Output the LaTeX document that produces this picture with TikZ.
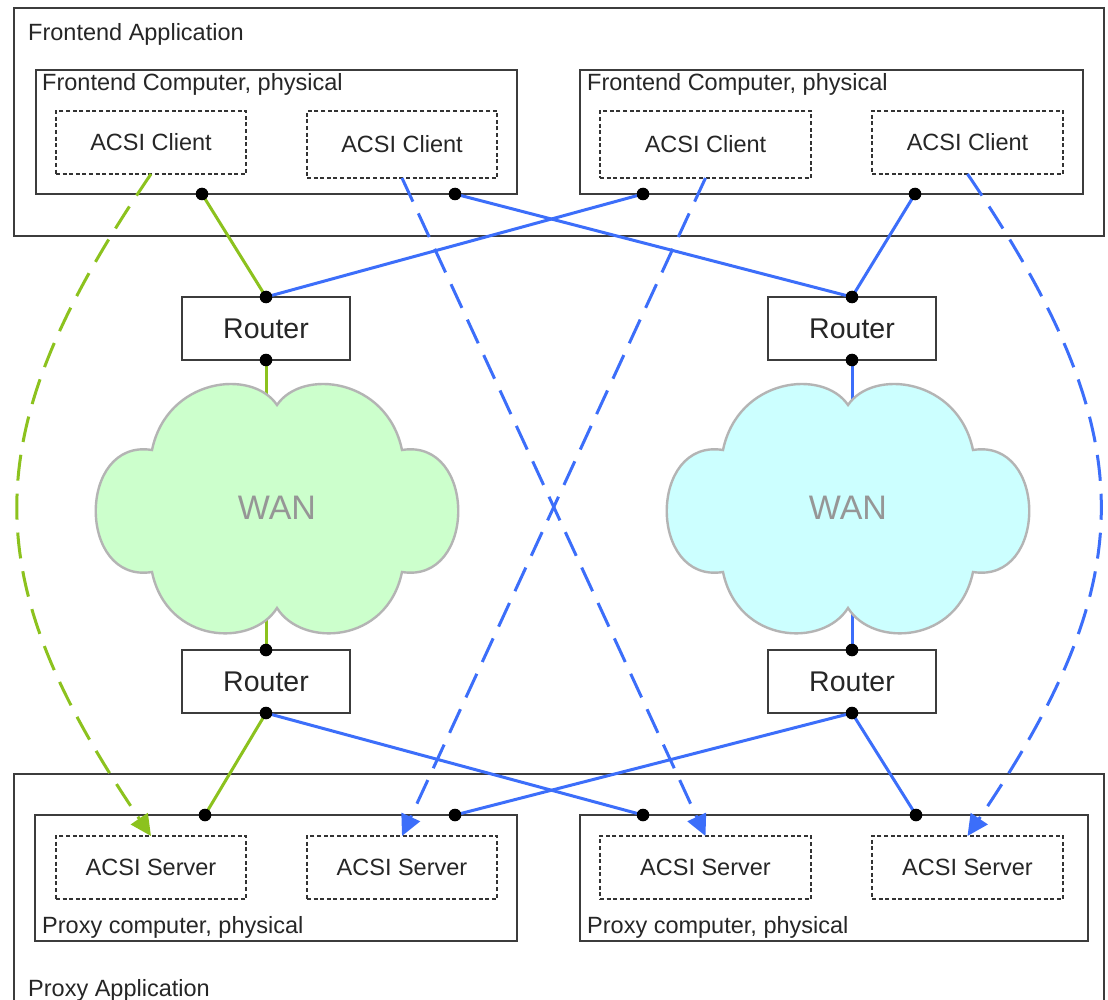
\documentclass[tikz,border=0pt]{standalone}
\usepackage{fontspec}
\setmainfont{Liberation Sans}
\usetikzlibrary{arrows.meta}
\definecolor{lgreen}{RGB}{140,194,30}
\definecolor{lblue}{RGB}{60,110,250}
\definecolor{cloudgreen}{RGB}{204,255,204}
\definecolor{cloudcyan}{RGB}{204,255,255}
\definecolor{cloudedge}{RGB}{180,180,180}
\definecolor{framegray}{RGB}{60,60,60}
\definecolor{wantext}{RGB}{150,150,150}
\begin{document}
\begin{tikzpicture}[x=1pt,y=-1pt,
  every node/.style={text=black!85},
  smalltext/.style={font=\fontsize{23.5}{27}\selectfont},
  framebox/.style={draw=framegray, line width=1.5pt, inner sep=0pt, outer sep=0pt},
  acsibox/.style={draw=black!80, line width=1.3pt, dash pattern=on 4pt off 2.6pt,
    inner sep=0pt, outer sep=0pt, smalltext, minimum height=63pt},
  routerbox/.style={framebox, font=\fontsize{28.5}{32}\selectfont, minimum width=168pt, minimum height=63pt},
  labeltext/.style={smalltext, inner sep=0pt, anchor=base west},
  gline/.style={draw=lgreen, line width=3pt},
  bline/.style={draw=lblue, line width=3pt},
  dashconn/.style={dash pattern=on 26pt off 13pt, -{Triangle[length=21pt,width=20pt]}},
  pics/wancloud/.style={code={
    \filldraw[fill=#1, draw=cloudedge, line width=2.4pt]
      (0,-103) .. controls (-25,-140) and (-110,-130) .. (-125,-58)
      .. controls (-200,-70) and (-200,76) .. (-125,64)
      .. controls (-110,136) and (-25,140) .. (0,100)
      .. controls (25,140) and (110,136) .. (125,64)
      .. controls (200,76) and (200,-70) .. (125,-58)
      .. controls (110,-130) and (25,-140) .. (0,-103) -- cycle;
  }}
]
\useasboundingbox (0,0) rectangle (1108,1000);
\fill[white] (0,0) rectangle (1108,1000);

% outer frames
\node[framebox, minimum width=1090pt, minimum height=228pt] (frontapp) at (559,122) {};
\node[labeltext] (frontapplbl) at (28,41) {Frontend Application};
\draw[draw=framegray, line width=1.5pt] (14,1000) -- (14,774) -- (1104,774) -- (1104,1000);
\node[labeltext] (proxyapplbl) at (28,996) {Proxy Application};

% frontend computers
\node[framebox, minimum width=481pt, minimum height=124pt] (fcL) at (276.5,132) {};
\node[framebox, minimum width=503pt, minimum height=124pt] (fcR) at (831.5,132) {};
\node[labeltext] (fcLlbl) at (42,91) {Frontend Computer, physical};
\node[labeltext] (fcRlbl) at (587,91) {Frontend Computer, physical};

\node[acsibox, minimum width=190pt] (cl1) at (151,142.5) {ACSI Client};
\node[acsibox, minimum width=190pt, minimum height=67pt] (cl2) at (402,144.5) {ACSI Client};
\node[acsibox, minimum width=211pt, minimum height=67pt] (cl3) at (705.5,144.5) {ACSI Client};
\node[acsibox, minimum width=191pt] (cl4) at (967.5,142.5) {ACSI Client};

% proxy computers
\node[framebox, minimum width=482pt, minimum height=126pt] (pcL) at (276,878) {};
\node[framebox, minimum width=508pt, minimum height=126pt] (pcR) at (834,878) {};
\node[labeltext] (pcLlbl) at (42,933) {Proxy computer, physical};
\node[labeltext] (pcRlbl) at (587,933) {Proxy computer, physical};

\node[acsibox, minimum width=190pt] (sv1) at (151,867.5) {ACSI Server};
\node[acsibox, minimum width=190pt] (sv2) at (402,867.5) {ACSI Server};
\node[acsibox, minimum width=211pt] (sv3) at (705.5,867.5) {ACSI Server};
\node[acsibox, minimum width=191pt] (sv4) at (967.5,867.5) {ACSI Server};

% routers
\node[routerbox] (rTL) at (266,328.5) {Router};
\node[routerbox] (rTR) at (852,328.5) {Router};
\node[routerbox] (rBL) at (266,681.5) {Router};
\node[routerbox] (rBR) at (852,681.5) {Router};

% connection points
\coordinate (d1) at (202,194);
\coordinate (d2) at (455,194);
\coordinate (d3) at (643,194);
\coordinate (d4) at (915,194);
\coordinate (e1) at (205,815);
\coordinate (e2) at (455,815);
\coordinate (e3) at (643,815);
\coordinate (e4) at (916,815);
\coordinate (rTLt) at (rTL.north);
\coordinate (rTLb) at (rTL.south);
\coordinate (rTRt) at (rTR.north);
\coordinate (rTRb) at (rTR.south);
\coordinate (rBLt) at (rBL.north);
\coordinate (rBLb) at (rBL.south);
\coordinate (rBRt) at (rBR.north);
\coordinate (rBRb) at (rBR.south);

% solid links
\draw[gline] (d1) -- (rTLt);
\draw[bline] (d2) -- (rTRt);
\draw[bline] (d3) -- (rTLt);
\draw[bline] (d4) -- (rTRt);
\draw[gline] (rTLb) -- (rBLt);
\draw[bline] (rTRb) -- (rBRt);
\draw[gline] (rBLb) -- (e1);
\draw[bline] (rBLb) -- (e3);
\draw[bline] (rBRb) -- (e2);
\draw[bline] (rBRb) -- (e4);

% clouds
\pic at (277,508) {wancloud=cloudgreen};
\pic at (848,508) {wancloud=cloudcyan};
\node[font=\fontsize{34}{38}\selectfont, text=wantext] (wanL) at (277,508) {WAN};
\node[font=\fontsize{34}{38}\selectfont, text=wantext] (wanR) at (848,508) {WAN};

% dashed logical links
\draw[gline, dashconn] (cl1.south) .. controls (-26,434) and (-26,575) .. (sv1.north);
\draw[bline, dashconn] (cl2.south) -- (sv3.north);
\draw[bline, dashconn] (cl3.south) -- (sv2.north);
\draw[bline, dashconn] (cl4.south) .. controls (1144,434) and (1144,575) .. (sv4.north);

% dots
\foreach \p in {d1,d2,d3,d4,e1,e2,e3,e4,rTLt,rTLb,rTRt,rTRb,rBLt,rBLb,rBRt,rBRb}
  \fill[black] (\p) circle (6.3pt);
\end{tikzpicture}
\end{document}
